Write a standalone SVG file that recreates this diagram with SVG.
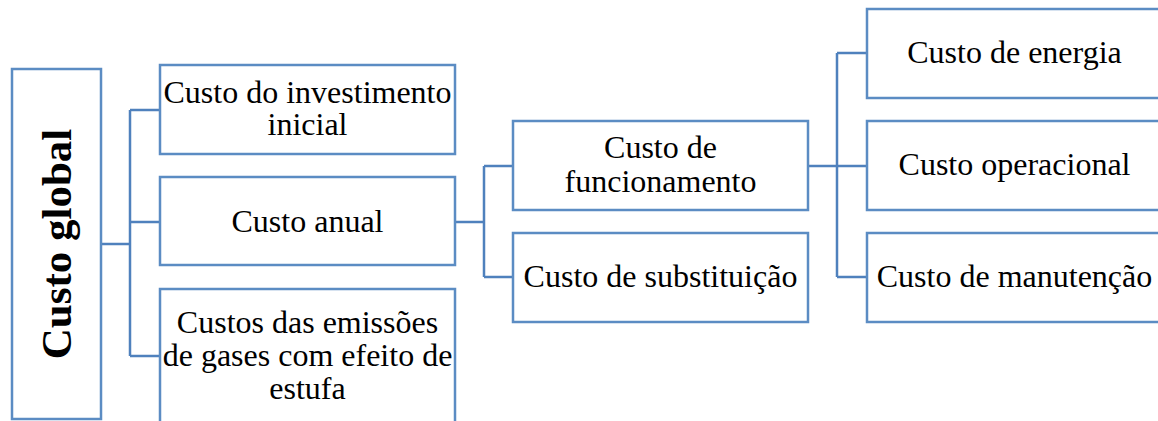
<svg xmlns="http://www.w3.org/2000/svg" width="1158" height="421" viewBox="0 0 1158 421">
<style>
.box{fill:#fff;stroke:#5B8CC3;stroke-width:2.5}
.c{fill:none;stroke:#4F81BD;stroke-width:2.5}
</style>
<rect width="1158" height="421" fill="#fff"/>
<g id="connectors">
<path class="c" d="M101 244H130M130 110V356M130 110H160M130 222H160M130 356H160"/>
<path class="c" d="M455 222H484M484 166V277M484 166H513M484 277H513"/>
<path class="c" d="M808 166H837M837 53V277M837 53H867M837 166H867M837 277H867"/>
</g>
<g font-family="Liberation Serif, serif" font-size="32" fill="#000" text-anchor="middle">
<g id="n-global">
<rect class="box" x="12" y="69" width="89" height="350"/>
<text font-weight="bold" font-size="43" transform="translate(70.5 244) rotate(-90)">Custo global</text>
</g>
<g id="n-investimento">
<rect class="box" x="160" y="65" width="295" height="89"/>
<text x="307.5" y="103">Custo do investimento</text>
<text x="307.5" y="135">inicial</text>
</g>
<g id="n-anual">
<rect class="box" x="160" y="177" width="295" height="88"/>
<text x="307.5" y="232">Custo anual</text>
</g>
<g id="n-emissoes">
<rect class="box" x="160" y="289" width="295" height="140"/>
<text x="307.5" y="333">Custos das emissões</text>
<text x="307.5" y="366">de gases com efeito de</text>
<text x="307.5" y="399">estufa</text>
</g>
<g id="n-funcionamento">
<rect class="box" x="513" y="121" width="295" height="89"/>
<text x="660.5" y="158">Custo de</text>
<text x="660.5" y="192">funcionamento</text>
</g>
<g id="n-substituicao">
<rect class="box" x="513" y="233" width="295" height="89"/>
<text x="660.5" y="287">Custo de substituição</text>
</g>
<g id="n-energia">
<rect class="box" x="867" y="9" width="295" height="89"/>
<text x="1014.5" y="63">Custo de energia</text>
</g>
<g id="n-operacional">
<rect class="box" x="867" y="121" width="295" height="89"/>
<text x="1014.5" y="175">Custo operacional</text>
</g>
<g id="n-manutencao">
<rect class="box" x="867" y="233" width="295" height="89"/>
<text x="1014.5" y="287">Custo de manutenção</text>
</g>
</g>
</svg>
